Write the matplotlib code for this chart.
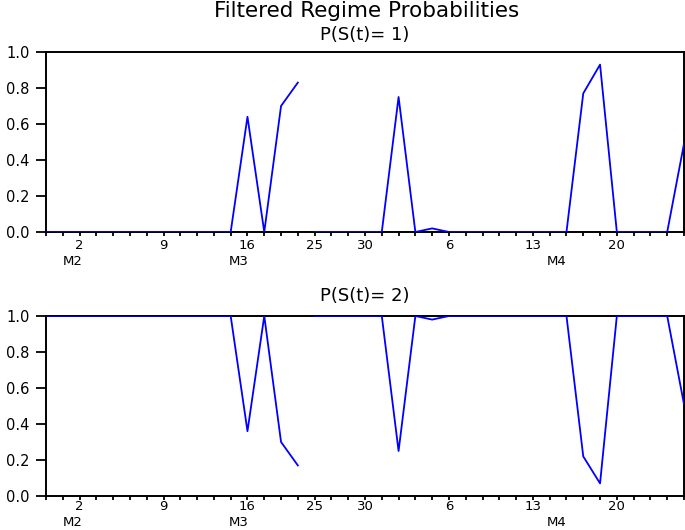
import numpy as np
import matplotlib
matplotlib.use("Agg")
import matplotlib.pyplot as plt

# filtered probabilities, one value per observation (39 obs)
p_regime1 = [0.0, 0.0, 0.0, 0.0, 0.0, 0.0, 0.0, 0.0, 0.0, 0.0, 0.0, 0.0,
             0.64, 0.0, 0.70, 0.83,
             0.0, 0.0, 0.0, 0.0, 0.0, 0.75, 0.0, 0.02,
             0.0, 0.0, 0.0, 0.0, 0.0, 0.0, 0.0, 0.0,
             0.77, 0.93, 0.0, 0.0, 0.0, 0.0, 0.49]
p_regime2 = [1.0, 1.0, 1.0, 1.0, 1.0, 1.0, 1.0, 1.0, 1.0, 1.0, 1.0, 1.0,
             0.36, 1.0, 0.30, 0.17,
             1.0, 1.0, 1.0, 1.0, 1.0, 0.25, 1.0, 0.98,
             1.0, 1.0, 1.0, 1.0, 1.0, 1.0, 1.0, 1.0,
             0.22, 0.07, 1.0, 1.0, 1.0, 1.0, 0.51]
# line is broken (missing dates) between obs 15 and obs 16
segment_starts = [0, 16]

# date labels on the x axis
day_pos = [2, 7, 12, 16, 19, 24, 29, 34]
day_labels = ["2", "9", "16", "25", "30", "6", "13", "20"]
month_pos = [1.6, 11.5, 30.4]
month_labels = ["M2", "M3", "M4"]

W, H = 685, 530
fig = plt.figure(figsize=(W / 100, H / 100), dpi=100)
plt.rcParams["font.family"] = ["DejaVu Sans"]

left = 46 / W
width = (684 - 46) / W
ax1 = fig.add_axes([left, 1 - 232 / H, width, 180 / H])
ax2 = fig.add_axes([left, 1 - 496 / H, width, 180 / H])

n = len(p_regime1)
x = np.arange(n)

# (axes, values, title, title pad, day label offset, month label offset)
panels = [(ax1, p_regime1, "P(S(t)= 1)", 9, -9.5, -21.5),
          (ax2, p_regime2, "P(S(t)= 2)", 11, -7.5, -18.8)]

for ax, vals, title, pad, dpad, mpad in panels:
    vals = np.array(vals)
    bounds = segment_starts + [n]
    for a, b in zip(bounds[:-1], bounds[1:]):
        ax.plot(x[a:b], vals[a:b], color="#0000ff", lw=1.3, zorder=3)
    ax.set_xlim(0, n - 1)
    ax.set_ylim(0, 1)
    ax.set_yticks([0.0, 0.2, 0.4, 0.6, 0.8, 1.0])
    ax.set_yticklabels(["0.0", "0.2", "0.4", "0.6", "0.8", "1.0"])
    ax.set_xticks(x)
    ax.set_xticklabels([])
    ax.tick_params(axis="y", length=7, width=1.3, pad=5, labelsize=10.5)
    ax.tick_params(axis="x", length=3, width=1.3)
    for s in ax.spines.values():
        s.set_linewidth(1.4)
    ax.set_title(title, fontsize=13, pad=pad)

    for p, lab in zip(day_pos, day_labels):
        ax.annotate(lab, xy=(p, 0), xycoords=("data", "axes fraction"),
                    xytext=(0, dpad), textcoords="offset points",
                    ha="center", va="center", fontsize=9.5)
    for p, lab in zip(month_pos, month_labels):
        ax.annotate(lab, xy=(p, 0), xycoords=("data", "axes fraction"),
                    xytext=(0, mpad), textcoords="offset points",
                    ha="center", va="center", fontsize=9.5)

fig.text(367 / W, 1 - 1 / H, "Filtered Regime Probabilities",
         ha="center", va="top", fontsize=15.5)

fig.savefig("out.png", dpi=100)
